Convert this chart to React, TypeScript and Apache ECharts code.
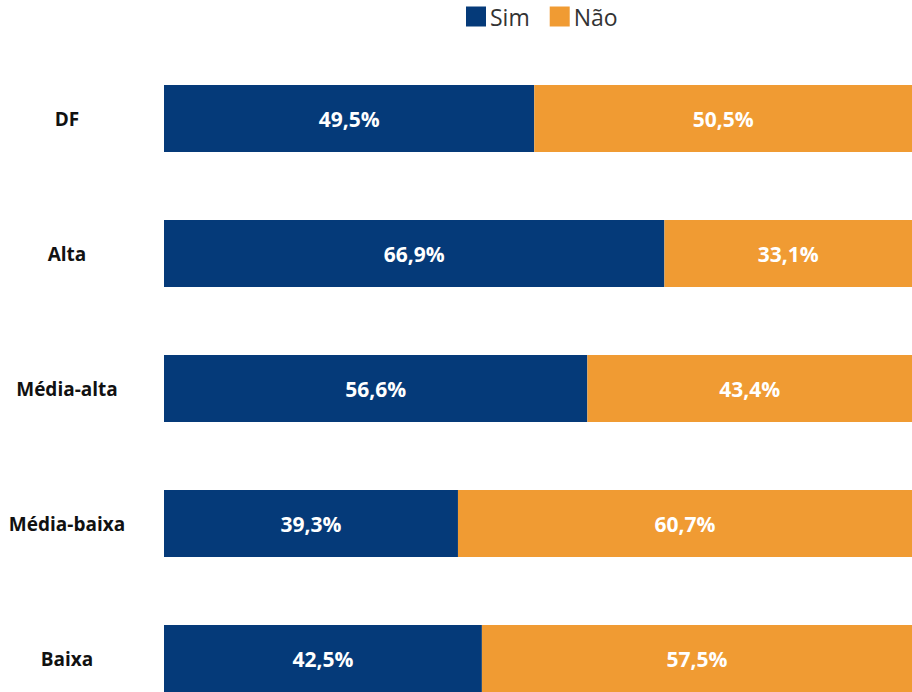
import React, { useEffect, useRef } from "react";
import * as echarts from "echarts";

const categories = ["DF", "Alta", "Média-alta", "Média-baixa", "Baixa"];
const simValues = [49.5, 66.9, 56.6, 39.3, 42.5];
const naoValues = [50.5, 33.1, 43.4, 60.7, 57.5];
const seriesNames = ["Sim", "Não"];

const fmt = (v: number) => v.toFixed(1).replace(".", ",") + "%";

export default function App() {
  const ref = useRef<HTMLDivElement>(null);
  useEffect(() => {
    document.body.style.margin = "0";
    document.body.style.overflow = "hidden";
    const chart = echarts.init(ref.current!, null, { renderer: "svg" });
    const labelStyle = {
      show: true,
      position: "inside" as const,
      color: "#ffffff",
      fontFamily: "Open Sans",
      fontWeight: "bold" as const,
      fontSize: 21,
      formatter: (p: any) => fmt(p.value),
    };
    chart.setOption({
      animation: false,
      legend: {
        data: seriesNames,
        left: 461,
        top: 0,
        itemWidth: 20,
        itemHeight: 20,
        itemGap: 20,
        icon: "rect",
        textStyle: { fontFamily: "Open Sans", fontSize: 23, color: "#333", padding: [0, 0, 0, -1] },
      },
      grid: { left: 164, right: 0, top: 51, height: 675, containLabel: false },
      xAxis: { type: "value", min: 0, max: 100, show: false },
      yAxis: {
        type: "category",
        data: categories,
        inverse: true,
        axisLine: { show: false },
        axisTick: { show: false },
        axisLabel: {
          align: "center",
          margin: 97,
          color: "#111",
          fontFamily: "Open Sans",
          fontWeight: "bold",
          fontSize: 19,
        },
      },
      series: [
        {
          name: seriesNames[0],
          type: "bar",
          stack: "total",
          data: simValues,
          barWidth: 67,
          itemStyle: { color: "#053A79" },
          label: labelStyle,
        },
        {
          name: seriesNames[1],
          type: "bar",
          stack: "total",
          data: naoValues,
          barWidth: 67,
          itemStyle: { color: "#F09B33" },
          label: labelStyle,
        },
      ],
    });
    return () => chart.dispose();
  }, []);
  return <div ref={ref} style={{ width: 912, height: 726 }} />;
}
